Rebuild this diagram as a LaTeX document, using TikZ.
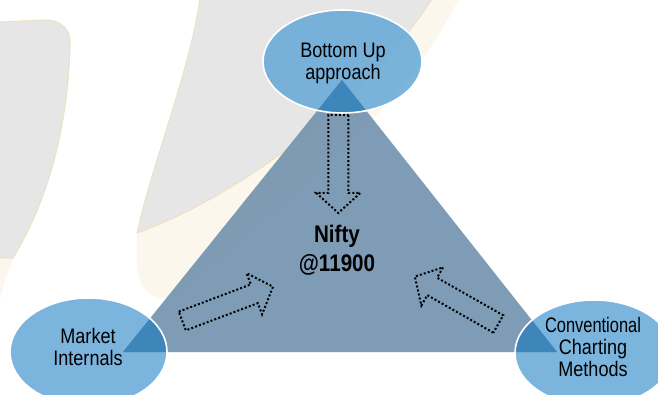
\documentclass[tikz,border=0pt]{standalone}
\usepackage{graphicx}
\usepackage{fontspec}
\setmainfont{Liberation Sans}[FakeStretch=0.86]
\usetikzlibrary{shapes.geometric}
\definecolor{wmgray}{HTML}{E6E6E6}
\definecolor{wmline}{HTML}{F0DCAE}
\definecolor{wmcream}{HTML}{FCF7EC}
\definecolor{tri}{RGB}{113,146,173}
\definecolor{bub}{RGB}{100,168,216}
\definecolor{ovl}{HTML}{3E86BA}
\tikzset{
  bubble/.style={ellipse, inner sep=0pt, fill=bub, fill opacity=0.85},
  rim/.style={draw=white, line width=1.6pt},
  dotarrow/.style={draw=black, line width=2pt, dash pattern=on 2pt off 2.1pt, line join=miter},
  lbl/.style={align=center, inner sep=0pt, text=black, font=\fontsize{21}{22}\selectfont},
  wm/.style={fill=wmgray, draw=wmline, line width=0.6pt},
}
\newcommand{\blockarrow}[3]{%
  \begin{scope}[shift={#1},rotate=#2]
    \draw[dotarrow] (0,-10) -- ({#3-20},-10) -- ({#3-20},-22) -- (#3,0) -- ({#3-20},22) -- ({#3-20},10) -- (0,10) -- cycle;
  \end{scope}}
\begin{document}
\begin{tikzpicture}[x=1pt,y=-1pt]
\useasboundingbox (0,0) rectangle (658,395);
\clip (0,0) rectangle (658,395);
\fill[white] (0,0) rectangle (658,395);
% watermark
\fill[wmcream] (137,233) .. controls (230,200) and (360,110) .. (433,0) -- (458,0)
   .. controls (400,120) and (250,230) .. (175,298) .. controls (150,300) and (137,290) .. (137,260) -- cycle;
\fill[wmcream] (0,258) -- (14,258) .. controls (8,270) and (3,285) .. (0,300) -- cycle;
\path[wm] (-2,22) -- (40,20) .. controls (62,19) and (72,28) .. (70,50)
   .. controls (68,110) and (55,190) .. (13,258) -- (-2,258) -- cycle;
\path[wm] (200,-2) .. controls (190,70) and (150,170) .. (137,233)
   .. controls (230,200) and (360,110) .. (433,-2) -- cycle;
% bubbles
\node[bubble, minimum width=159pt, minimum height=103pt] (top) at (342.5,61.5) {};
\node[bubble, minimum width=157pt, minimum height=108pt] (left) at (88.5,352) {};
\node[bubble, minimum width=158pt, minimum height=106pt] (right) at (594,353) {};
% triangle
\coordinate (A) at (342,80);
\coordinate (B) at (123,352);
\coordinate (C) at (557,352);
\fill[tri, fill opacity=0.9] (A) -- (B) -- (C) -- cycle;
\begin{scope}
  \clip (A) -- (B) -- (C) -- cycle;
  \fill[ovl] (top.center) ellipse [x radius=79.5, y radius=51.5];
  \fill[ovl] (left.center) ellipse [x radius=78.5, y radius=54];
  \fill[ovl] (right.center) ellipse [x radius=79, y radius=53];
\end{scope}
\draw[rim] (top.center) ellipse [x radius=79.5, y radius=51.5];
\draw[rim] (left.center) ellipse [x radius=78.5, y radius=54];
\draw[rim] (right.center) ellipse [x radius=79, y radius=53];
% dotted block arrows
\blockarrow{(338.3,115)}{-90}{98}
\blockarrow{(182.3,321)}{20.7}{97}
\blockarrow{(498.3,324)}{150.4}{96}
% labels
\node[lbl] (toptxt) at (343,63.5) {Bottom Up\\approach};
\node[lbl] (lefttxt) at (88,347.4) {Market\\Internals};
\node[lbl] (righttxt) at (593,347.4) {\scalebox{0.91}[1]{Conventional}\\Charting\\Methods};
\node[lbl, font=\fontsize{24}{29}\selectfont\bfseries] (nifty) at (337,250.2) {Nifty\\@11900};
\end{tikzpicture}
\end{document}
